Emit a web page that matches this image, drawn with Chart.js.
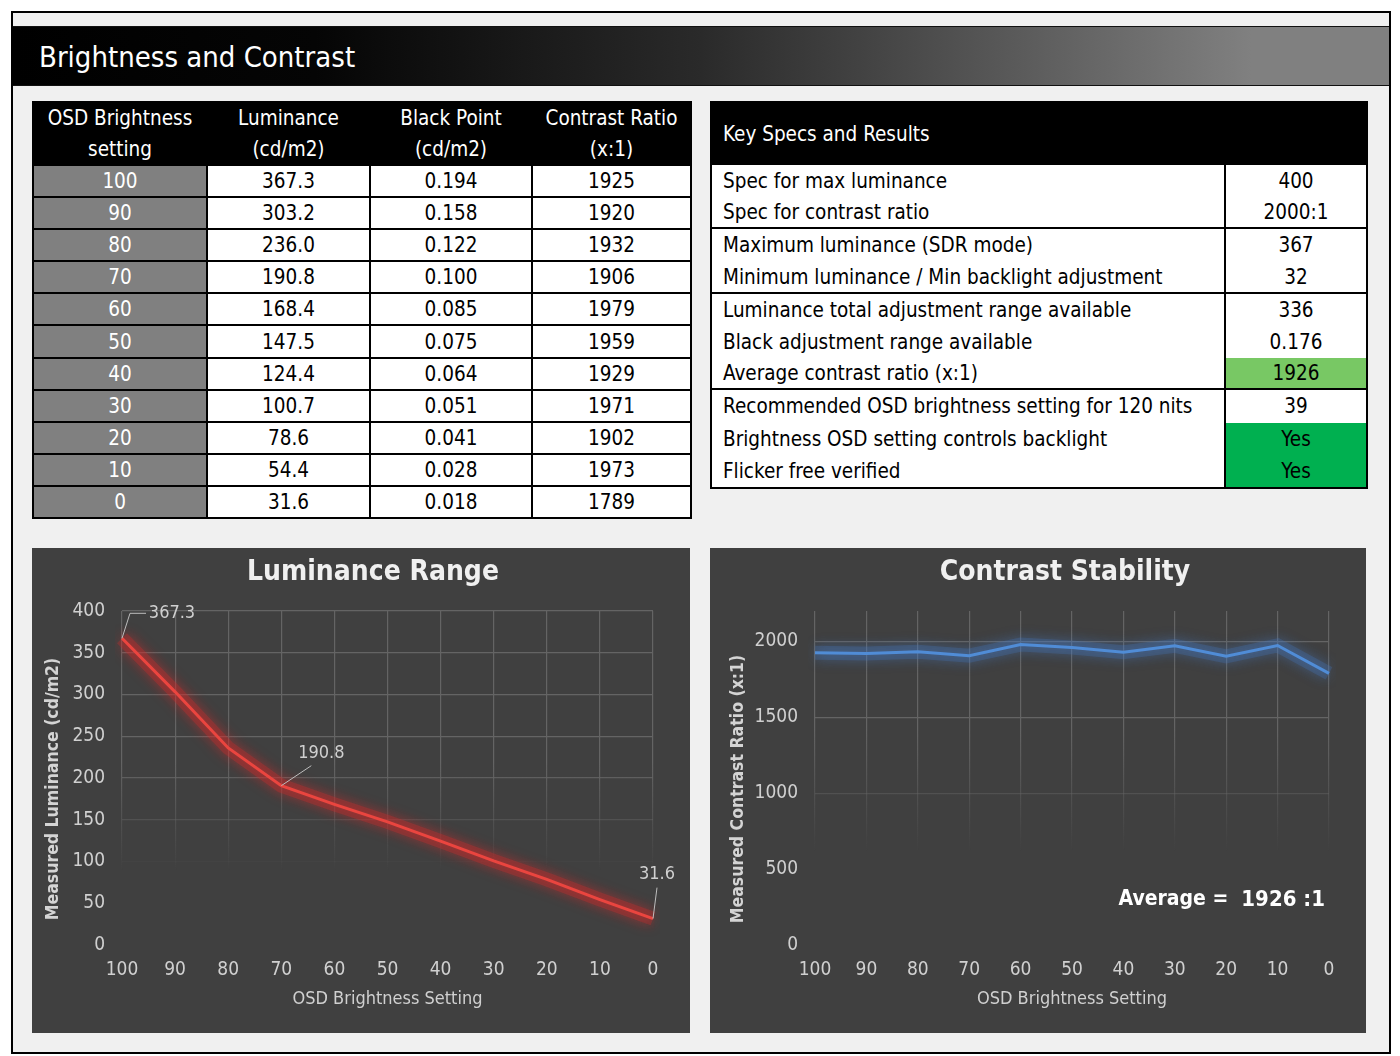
<!DOCTYPE html>
<html>
<head>
<meta charset="utf-8">
<title>Brightness and Contrast</title>
<script src="https://cdn.jsdelivr.net/npm/chart.js@4.4.1/dist/chart.umd.min.js"></script>
<style>
  html, body { margin: 0; padding: 0; background: #fff; }
  body {
    width: 1400px; height: 1056px; position: relative; overflow: hidden;
    font-family: "DejaVu Sans Condensed", "Liberation Sans Narrow", sans-serif;
  }
  #frame {
    position: absolute; left: 11px; top: 11px; width: 1376px; height: 1039px;
    border: 2px solid #000; background: #f0f0f0;
  }
  #header {
    position: absolute; left: 13px; top: 26px; width: 1376px; height: 60px;
    border-top: 1px solid #111; border-bottom: 1px solid #111;
    background: linear-gradient(to right, #000 0%, #050505 22%, #2a2a2a 50%, #585858 72%, #808080 90%, #808080 100%);
    color: #fff; font-size: 29px; line-height: 60px; padding-left: 26px; box-sizing: border-box;
  }
  table { position: absolute; border-collapse: collapse; table-layout: fixed; font-size: 20.5px; color: #000; }
  #lumTable { left: 32px; top: 101px; width: 658px; }
  #lumTable th {
    background: #000; color: #fff; font-weight: normal; height: 61px; line-height: 30.5px;
    padding: 0; border: 2px solid #000;
  }
  #lumTable td { height: 30.1px; padding: 0; border: 2px solid #000; text-align: center; background: #fff; }
  #lumTable td.set { background: #808080; color: #fff; }

  #specTable { left: 710px; top: 101px; width: 656px; border: 2px solid #000; }
  #specTable th {
    background: #000; color: #fff; font-weight: normal; height: 62px; text-align: left;
    padding: 0 0 0 11px;
  }
  #specTable td { height: 32.2px; padding: 0; background: #fff; }
  #specTable tr.sep td { height: 30.2px; border-bottom: 2px solid #000; }
  #specTable td.lbl { padding-left: 11px; border-right: 2px solid #000; }
  #specTable td.val { text-align: center; }
  #specTable td.hi1 { background: #78c864; }
  #specTable td.hi2 { background: #00b050; }

  .panel { position: absolute; top: 548px; height: 485px; background: #404040; }
  #p1 { left: 32px; width: 658px; }
  #p2 { left: 710px; width: 656px; }
  .ctitle {
    position: absolute; top: 553px; width: 400px; text-align: center;
    color: #f0f0f0; font-size: 28px; font-weight: bold; line-height: 36px; z-index: 2;
  }
  #t1 { left: 173px; }
  #t2 { left: 865px; }
</style>
</head>
<body>
<div id="frame"></div>
<div id="header">Brightness and Contrast</div>

<table id="lumTable">
  <colgroup><col style="width:174px"><col style="width:163px"><col style="width:162px"><col style="width:159px"></colgroup>
  <thead>
    <tr><th>OSD Brightness<br>setting</th><th>Luminance<br>(cd/m2)</th><th>Black Point<br>(cd/m2)</th><th>Contrast Ratio<br>(x:1)</th></tr>
  </thead>
  <tbody id="lumBody"></tbody>
</table>

<table id="specTable">
  <colgroup><col style="width:514px"><col style="width:142px"></colgroup>
  <thead><tr><th colspan="2">Key Specs and Results</th></tr></thead>
  <tbody id="specBody"></tbody>
</table>

<div class="panel" id="p1"><canvas id="lumChart"></canvas></div>
<div class="panel" id="p2"><canvas id="crChart"></canvas></div>
<div class="ctitle" id="t1">Luminance Range</div>
<div class="ctitle" id="t2">Contrast Stability</div>

<script>
// --- data ---
const settings   = ['100', '90', '80', '70', '60', '50', '40', '30', '20', '10', '0'];
const luminance  = [367.3, 303.2, 236.0, 190.8, 168.4, 147.5, 124.4, 100.7, 78.6, 54.4, 31.6];
const blackPoint = [0.194, 0.158, 0.122, 0.100, 0.085, 0.075, 0.064, 0.051, 0.041, 0.028, 0.018];
const contrast   = [1925, 1920, 1932, 1906, 1979, 1959, 1929, 1971, 1902, 1973, 1789];
const avgContrast = 1926;

const lumTicks = [0, 50, 100, 150, 200, 250, 300, 350, 400];
const crTicks  = [0, 500, 1000, 1500, 2000];

const specLabels = [
  'Spec for max luminance',
  'Spec for contrast ratio',
  'Maximum luminance (SDR mode)',
  'Minimum luminance / Min backlight adjustment',
  'Luminance total adjustment range available',
  'Black adjustment range available',
  'Average contrast ratio (x:1)',
  'Recommended OSD brightness setting for 120 nits',
  'Brightness OSD setting controls backlight',
  'Flicker free verified',
];
const specValues = ['400', '2000:1', '367', '32', '336', '0.176', '1926', '39', 'Yes', 'Yes'];

// styling of the specs table (kept apart from the values)
const specGroupEnds = [1, 3, 6];
const specHighlight = { 6: 'hi1', 8: 'hi2', 9: 'hi2' };

// --- tables ---
document.getElementById('lumBody').innerHTML = settings.map((s, i) => `
  <tr>
    <td class="set">${s}</td>
    <td>${luminance[i].toFixed(1)}</td>
    <td>${blackPoint[i].toFixed(3)}</td>
    <td>${contrast[i]}</td>
  </tr>`).join('');

document.getElementById('specBody').innerHTML = specLabels.map((l, i) => `
  <tr class="${specGroupEnds.includes(i) ? 'sep' : ''}">
    <td class="lbl">${l}</td>
    <td class="val ${specHighlight[i] || ''}">${specValues[i]}</td>
  </tr>`).join('');

// --- charts ---
const FONT = '"DejaVu Sans Condensed", "Liberation Sans Narrow", sans-serif';
Chart.defaults.font.family = FONT;
Chart.defaults.color = '#d4d4d4';

const GRID = 'rgba(100,100,100,1)';

// grid fades out toward the bottom of the plot
function fadeGrid(full, gone) {
  return ctx => {
    const a = ctx.chart.chartArea;
    if (!a) return GRID;
    const g = ctx.chart.ctx.createLinearGradient(0, a.top, 0, a.bottom);
    g.addColorStop(0, GRID);
    g.addColorStop(full, GRID);
    g.addColorStop(gone, 'rgba(100,100,100,0)');
    g.addColorStop(1, 'rgba(100,100,100,0)');
    return g;
  };
}

const glow = {
  id: 'glow',
  beforeDatasetDraw(chart, args, opts) {
    const c = chart.ctx;
    c.save();
    c.shadowColor = opts.color;
    c.shadowBlur = opts.blur;
  },
  afterDatasetDraw(chart) { chart.ctx.restore(); },
};

const callouts = {
  id: 'callouts',
  afterDatasetsDraw(chart, args, opts) {
    const meta = chart.getDatasetMeta(0);
    const values = chart.data.datasets[0].data;
    const c = chart.ctx;
    c.save();
    c.font = '18px ' + FONT;
    c.fillStyle = '#d0d0d0';
    c.strokeStyle = '#bdbdbd';
    c.lineWidth = 1;
    c.textAlign = 'center';
    c.textBaseline = 'middle';
    opts.items.forEach(it => {
      const p = meta.data[it.index];
      c.beginPath();
      c.moveTo(p.x, p.y);
      it.leader.forEach(([dx, dy]) => c.lineTo(p.x + dx, p.y + dy));
      c.stroke();
      c.fillText(values[it.index].toFixed(1), p.x + it.dx, p.y + it.dy);
    });
    c.restore();
  },
};

const averageNote = {
  id: 'averageNote',
  afterDraw(chart) {
    const a = chart.chartArea;
    const c = chart.ctx;
    c.save();
    c.fillStyle = '#ffffff';
    c.textBaseline = 'middle';
    c.textAlign = 'right';
    const y = a.bottom - 45;
    c.font = 'bold 22px ' + FONT;
    const num = avgContrast + ' :1';
    c.fillText(num, a.right - 4, y);
    const w = c.measureText(num).width;
    c.font = 'bold 21px ' + FONT;
    c.fillText('Average =', a.right - 4 - w - 13, y);
    c.restore();
  },
};

function baseOptions(cfg) {
  return {
    responsive: true,
    maintainAspectRatio: false,
    animation: false,
    layout: { padding: { left: 0, right: 37, top: 63, bottom: 0 } },
    plugins: {
      legend: { display: false },
      tooltip: { enabled: false },
      title: { display: false },
      glow: { color: cfg.glow, blur: 14 },
    },
    scales: {
      x: {
        grid: { color: fadeGrid(cfg.fade[0], cfg.fade[1]), drawTicks: false, lineWidth: 1.2 },
        border: { display: false },
        ticks: { color: '#d0d0d0', font: { size: 19 }, padding: 14, maxRotation: 0, autoSkip: false },
        title: {
          display: true, text: 'OSD Brightness Setting', color: '#d0d0d0',
          font: { size: 18 }, padding: { top: 0, bottom: 23 },
        },
        afterFit(s) { s.height = 88; },
      },
      y: {
        min: 0, max: cfg.max,
        afterBuildTicks(s) { s.ticks = cfg.ticks.map(v => ({ value: v })); },
        grid: { color: fadeGrid(cfg.fade[0], cfg.fade[1]), drawTicks: false, lineWidth: 1.2 },
        border: { display: false },
        ticks: { color: '#d0d0d0', font: { size: 19 }, padding: 17, callback: v => String(v) },
        title: {
          // trailing spaces push the rotated title a little below the plot's middle, as in the source
          display: true, text: cfg.yTitle + '    ', color: '#d4d4d4',
          font: { size: 17.5, weight: 'bold' }, padding: { top: cfg.yTitlePad, bottom: 0 },
        },
        afterFit(s) { s.width = cfg.yWidth; },
      },
    },
  };
}

const lumOpts = baseOptions({
  glow: 'rgba(235,40,40,0.9)', fade: [0.45, 0.78], max: 400, ticks: lumTicks,
  yTitle: 'Measured Luminance (cd/m2)', yTitlePad: 11, yWidth: 90,
});
lumOpts.plugins.callouts = {
  items: [
    { index: 0, dx: 50, dy: -25, leader: [[8, -25], [24, -25]] },
    { index: 3, dx: 40, dy: -32, leader: [[30, -20]] },
    { index: 10, dx: 4, dy: -44, leader: [[4, -31]] },
  ],
};

new Chart(document.getElementById('lumChart'), {
  type: 'line',
  data: {
    labels: settings,
    datasets: [
      { data: luminance, borderColor: '#ea453f', borderWidth: 3, pointRadius: 0, tension: 0, fill: false },
      // soft halo under the line
      { data: luminance, borderColor: 'rgba(200,45,45,0.32)', borderWidth: 14, pointRadius: 0, tension: 0, fill: false },
    ],
  },
  options: lumOpts,
  plugins: [glow, callouts],
});

new Chart(document.getElementById('crChart'), {
  type: 'line',
  data: {
    labels: settings,
    datasets: [
      { data: contrast, borderColor: '#508cd6', borderWidth: 3, pointRadius: 0, tension: 0, fill: false },
      { data: contrast, borderColor: 'rgba(70,120,190,0.26)', borderWidth: 14, pointRadius: 0, tension: 0, fill: false },
    ],
  },
  options: baseOptions({
    glow: 'rgba(70,130,215,0.8)', fade: [0.35, 0.72], max: 2200, ticks: crTicks,
    yTitle: 'Measured Contrast Ratio (x:1)', yTitlePad: 18, yWidth: 105,
  }),
  plugins: [glow, averageNote],
});
</script>
</body>
</html>
